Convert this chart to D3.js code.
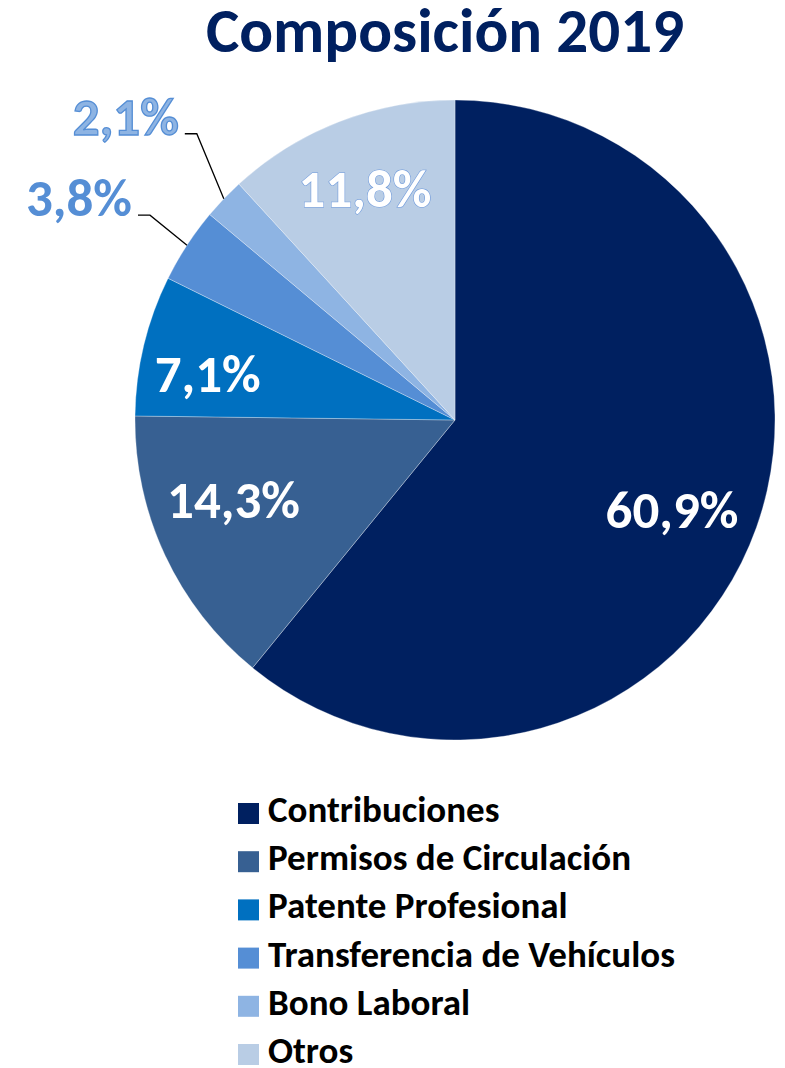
<!DOCTYPE html>
<html>
<head>
<meta charset="utf-8">
<script src="https://cdn.jsdelivr.net/npm/d3@7"></script>
<style>
  body { margin: 0; background: #fff; }
  text { font-family: Carlito, Lato, "Open Sans", sans-serif; font-weight: bold; }
</style>
</head>
<body>
<div id="chart"></div>
<script>
// Data
var categories = ["Contribuciones", "Permisos de Circulación", "Patente Profesional",
                  "Transferencia de Vehículos", "Bono Laboral", "Otros"];
var shares = [60.9, 14.3, 7.1, 3.8, 2.1, 11.8];
var labels = ["60,9%", "14,3%", "7,1%", "3,8%", "2,1%", "11,8%"];
var colors = ["#002060", "#376092", "#0070C0", "#558ED5", "#8EB4E3", "#B9CDE5"];

var svgWidth = 785, svgHeight = 1068;
var cx = 455, cy = 420, radius = 320;

var svg = d3.select("#chart").append("svg")
  .attr("width", svgWidth)
  .attr("height", svgHeight);

// Title
svg.append("text")
  .attr("x", 445)
  .attr("y", 52)
  .attr("text-anchor", "middle")
  .attr("fill", "#002060")
  .style("font-size", "63px")
  .text("Composición 2019");

var pieData = d3.pie().sort(null).value(d => d)(shares);
var arc = d3.arc().innerRadius(0).outerRadius(radius);

var pieGroup = svg.append("g")
  .attr("transform", `translate(${cx}, ${cy})`);

pieGroup.selectAll("path")
  .data(pieData)
  .enter()
  .append("path")
  .attr("d", arc)
  .attr("fill", (d, i) => colors[i])
  .attr("stroke", "#fff")
  .attr("stroke-width", 0.6)
  .attr("stroke-opacity", 0.5);

// Label placement: inside for big slices (best-fit nudges), outside with leader for small ones
var insideArc = d3.arc().innerRadius(radius * 0.75).outerRadius(radius * 0.75);
var edgeArc = d3.arc().innerRadius(radius).outerRadius(radius);
var nudge = {0: [-9, 10], 1: [-4, -20], 2: [-14, 11], 5: [-3, -6]};
var leader = {3: [-37, -30], 4: [-27, -65]};

pieData.forEach(function(d, i) {
  var lbl;
  if (leader[i]) {
    var edge = edgeArc.centroid(d);
    var elbow = [edge[0] + leader[i][0], edge[1] + leader[i][1]];
    var end = [elbow[0] - 12, elbow[1]];
    pieGroup.append("polyline")
      .attr("points", [edge, elbow, end].map(p => p.join(",")).join(" "))
      .attr("fill", "none")
      .attr("stroke", "#000")
      .attr("stroke-width", 1.3);
    lbl = pieGroup.append("text")
      .attr("x", end[0] - 6)
      .attr("y", end[1] + 1)
      .attr("text-anchor", "end");
    if (i === 4) {
      lbl.attr("fill", "#8EB4E3").attr("stroke", "#558ED5").attr("stroke-width", 1.3);
    } else {
      lbl.attr("fill", "#558ED5");
    }
  } else {
    var c = insideArc.centroid(d);
    lbl = pieGroup.append("text")
      .attr("x", c[0] + nudge[i][0])
      .attr("y", c[1] + nudge[i][1])
      .attr("text-anchor", "middle")
      .attr("dy", "0.32em")
      .attr("fill", "#fff");
    if (i === 5) {
      lbl.attr("stroke", "#6F9ADB").attr("stroke-width", 1.2).attr("paint-order", "stroke");
    }
  }
  lbl.style("font-size", "53px").text(labels[i]);
});

// Legend
var legend = svg.append("g").attr("transform", "translate(238, 803)");
var rowStep = 48.2;

var rows = legend.selectAll("g")
  .data(categories)
  .enter()
  .append("g")
  .attr("transform", (d, i) => `translate(0, ${i * rowStep})`);

rows.append("rect")
  .attr("width", 21)
  .attr("height", 21)
  .attr("fill", (d, i) => colors[i]);

rows.append("text")
  .attr("x", 30)
  .attr("y", 19)
  .attr("fill", "#000")
  .style("font-size", "37px")
  .text(d => d);
</script>
</body>
</html>
